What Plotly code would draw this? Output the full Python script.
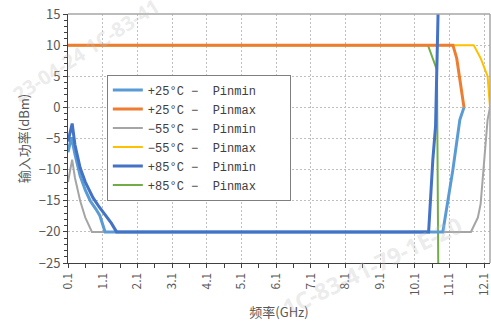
import plotly.graph_objects as go

# ---- data ----
series_names = ["+25°C −  Pinmin", "+25°C −  Pinmax", "−55°C −  Pinmin",
                "−55°C −  Pinmax", "+85°C −  Pinmin", "+85°C −  Pinmax"]

f_25_min = [0.1, 0.2, 0.3, 0.45, 0.6, 0.74, 0.9, 1.02, 1.17, 10.91, 11.2, 11.4, 11.52]
p_25_min = [-7.2, -4.8, -7.5, -11.0, -13.3, -15.0, -16.3, -17.4, -20.0, -20.0, -10.0, -2.0, 0.0]

f_25_max = [0.1, 11.2, 11.31, 11.52]
p_25_max = [10.0, 10.0, 7.9, 0.0]

f_m55_min = [0.1, 0.22, 0.3, 0.45, 0.6, 0.79, 11.72, 11.92, 12.0, 12.1, 12.2, 12.27]
p_m55_min = [-12.0, -8.4, -11.3, -15.0, -17.7, -20.0, -20.0, -17.7, -15.5, -9.0, -2.0, 0.0]

f_m55_max = [0.1, 11.8, 12.0, 12.2, 12.27]
p_m55_max = [10.0, 10.0, 7.9, 5.0, 0.0]

f_85_min = [0.1, 0.22, 0.3, 0.45, 0.6, 0.82, 1.0, 1.23, 1.35, 1.5, 10.5, 10.62, 10.7, 10.78]
p_85_min = [-5.5, -2.6, -6.0, -9.7, -12.0, -14.5, -16.0, -17.7, -18.6, -20.0, -20.0, -8.5, -3.0, 17.0]

f_85_max = [0.1, 10.48, 10.74, 10.78]
p_85_max = [10.0, 10.0, 6.0, -27.0]

x_tick_vals = [0.1, 1.1, 2.1, 3.1, 4.1, 5.1, 6.1, 7.1, 8.1, 9.1, 10.1, 11.1, 12.1]
x_tick_text = ["0.1", "1.1", "2.1", "3.1", "4.1", "5.1", "6.1", "7.1", "8.1", "9.1", "10.1", "11.1", "12.1"]

watermarks = ["23-04-24 1C-83-41", "1C-83-41-79-1E-20"]

# ---- styling ----
colors = ["#5B9BD5", "#ED7D31", "#A5A5A5", "#FFC000", "#4472C4", "#70AD47"]
widths = [3, 3, 2, 2, 3, 2]
xs = [f_25_min, f_25_max, f_m55_min, f_m55_max, f_85_min, f_85_max]
ys = [p_25_min, p_25_max, p_m55_min, p_m55_max, p_85_min, p_85_max]
draw_order = [2, 3, 5, 0, 1, 4]

fig = go.Figure()
for i in draw_order:
    fig.add_trace(go.Scatter(
        x=xs[i], y=ys[i], mode="lines", name=series_names[i] + "    ",
        line=dict(color=colors[i], width=widths[i]),
        legendrank=i + 1,
    ))

grid = dict(gridcolor="#BFBFBF", griddash="2px,2px", gridwidth=1)
fig.update_layout(
    width=491, height=322,
    margin=dict(l=68, r=1, t=14, b=59),
    paper_bgcolor="white", plot_bgcolor="white",
    font=dict(family="Noto Sans CJK SC", size=13, color="#595959"),
    showlegend=True,
    legend=dict(
        x=0.092, y=0.757, xanchor="left", yanchor="top",
        bgcolor="white", bordercolor="#7F7F7F", borderwidth=1,
        font=dict(family="Liberation Mono", size=12, color="#404040"),
        tracegroupgap=0, itemwidth=30,
    ),
    xaxis=dict(
        range=[0.1, 12.27], tickmode="array", tickvals=x_tick_vals, ticktext=x_tick_text,
        tickangle=-90, ticks="outside", ticklen=4, tickcolor="#404040",
        showline=True, linecolor="#404040", linewidth=1, automargin=False,
        ticklabeloverflow="allow",
        tickfont=dict(size=12, color="#595959"),
        minor=dict(dtick=0.5, tick0=0.1, ticks="outside", ticklen=4, tickcolor="#404040", showgrid=False),
        showgrid=True, zeroline=False,
        title=dict(text="频率(GHz)", font=dict(size=13, color="#595959"), standoff=12),
        **grid,
    ),
    yaxis=dict(
        range=[-25, 15], dtick=5, tick0=0, ticks="outside", ticklen=4, tickcolor="#404040",
        showline=True, linecolor="#404040", linewidth=1, automargin=False,
        tickfont=dict(size=13, color="#595959"),
        minor=dict(dtick=1, ticks="outside", ticklen=3, tickcolor="#404040", showgrid=False),
        showgrid=True, zeroline=False,
        title=dict(text="输入功率(dBm)", font=dict(size=13, color="#595959"), standoff=6),
        **grid,
    ),
)
# grey frame on top / right
fig.add_shape(type="line", xref="paper", yref="paper", x0=0, x1=1, y0=1, y1=1,
              line=dict(color="#A6A6A6", width=1.5))
fig.add_shape(type="line", xref="paper", yref="paper", x0=1, x1=1, y0=0, y1=1,
              line=dict(color="#A6A6A6", width=1.5))

# faint watermark text
fig.add_annotation(text=watermarks[0], xref="paper", yref="paper",
                   x=(85 - 68) / 422, y=(263 - 50) / 249, xanchor="center", yanchor="middle",
                   showarrow=False, textangle=-33,
                   font=dict(size=20, color="rgba(190,190,190,0.3)", family="Noto Sans", weight="bold"))
fig.add_annotation(text=watermarks[1], xref="paper", yref="paper",
                   x=(372 - 68) / 422, y=(263 - 266) / 249, xanchor="center", yanchor="middle",
                   showarrow=False, textangle=-26,
                   font=dict(size=23, color="rgba(190,190,190,0.3)", family="Noto Sans", weight="bold"))

fig.write_html("out.html", config={"displayModeBar": False},
               post_script="document.body.style.margin='0';document.body.style.overflow='hidden';")
